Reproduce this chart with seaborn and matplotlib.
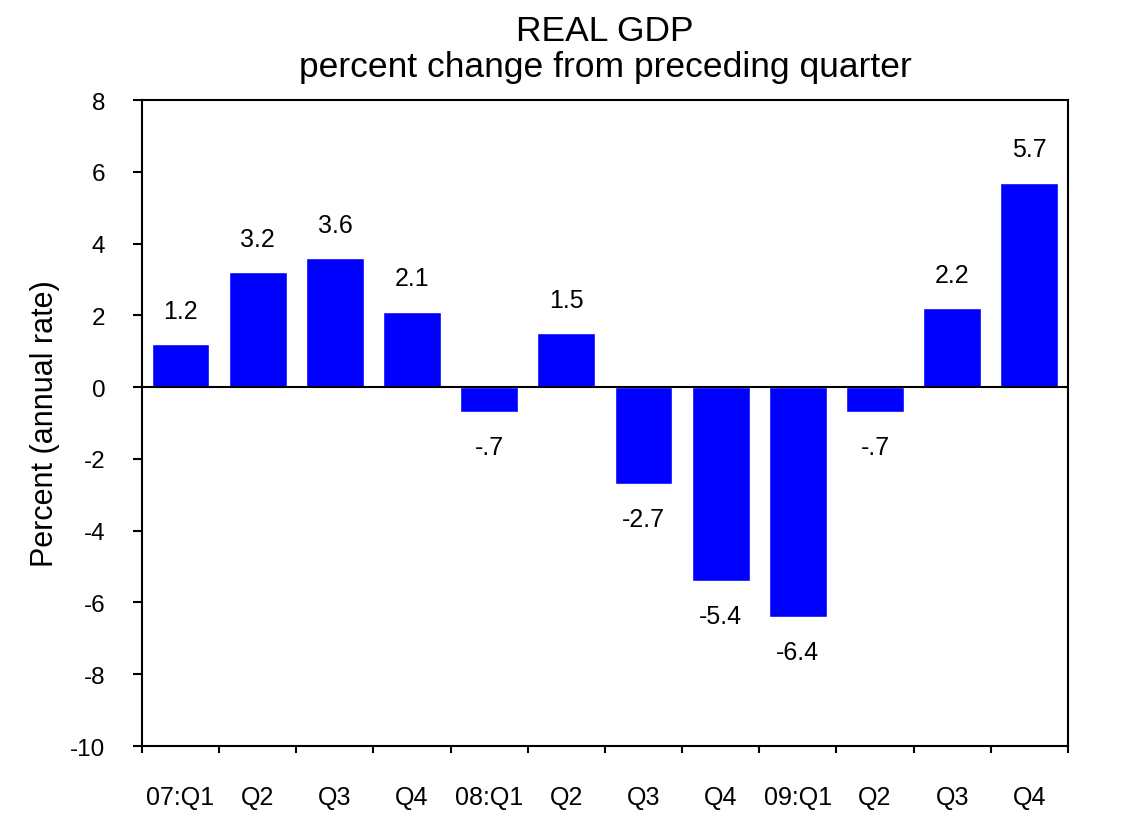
import matplotlib
matplotlib.use("Agg")
import matplotlib.pyplot as plt
import numpy as np
import pandas as pd
import seaborn as sns

# ---------------------- data ----------------------
quarters = ["07:Q1", "Q2", "Q3", "Q4", "08:Q1", "Q2 ", "Q3 ", "Q4 ", "09:Q1", "Q2  ", "Q3  ", "Q4  "]
growth = [1.2, 3.2, 3.6, 2.1, -0.7, 1.5, -2.7, -5.4, -6.4, -0.7, 2.2, 5.7]
y_ticks = [-10, -8, -6, -4, -2, 0, 2, 4, 6, 8]

df = pd.DataFrame({"quarter": quarters, "growth": growth})


def fmt_value(v):
    """1.2 -> '1.2', -0.7 -> '-.7'"""
    s = f"{v:.1f}"
    return s.replace("0.", ".", 1) if abs(v) < 1 else s


# ---------------------- style ----------------------
sns.set_theme(style="white")
plt.rcParams["font.family"] = ["Liberation Sans", "DejaVu Sans"]
plt.rcParams["axes.unicode_minus"] = False
plt.rcParams["text.color"] = "black"
plt.rcParams["axes.labelcolor"] = "black"
plt.rcParams["xtick.color"] = "black"
plt.rcParams["ytick.color"] = "black"

fig = plt.figure(figsize=(11.25, 8.28), dpi=100)
ax = fig.add_axes([0.1262, 0.0978, 0.8231, 0.7802])

sns.barplot(data=df, x="quarter", y="growth", color="#0000FF", saturation=1,
            width=0.75, ax=ax, order=quarters)

ax.axhline(0, color="black", lw=1.5, zorder=3)

for i, v in enumerate(growth):
    off = 24 if v >= 0 else -25
    ax.annotate(fmt_value(v), (i, v), xytext=(0, off), textcoords="offset points",
                ha="center", va="center", fontsize=18)

ax.set_ylim(-10, 8)
ax.set_yticks(y_ticks)
ax.set_xlim(-0.5, len(quarters) - 0.5)

# labels centered under bars, tick marks between bars
ax.set_xticks(np.arange(len(quarters)))
ax.set_xticklabels([q.strip() for q in quarters])
ax.set_xticks(np.arange(-0.5, len(quarters), 1), minor=True)
ax.tick_params(axis="x", which="major", length=0, pad=28, labelsize=18)
ax.tick_params(axis="x", which="minor", bottom=True, length=5, width=1.5, direction="out")
ax.tick_params(axis="y", left=True, length=6.5, width=1.5, direction="out",
               pad=20, labelsize=17.5)

for sp in ax.spines.values():
    sp.set_color("black")
    sp.set_linewidth(1.5)

ax.set_xlabel("")
ax.set_ylabel("Percent (annual rate)", fontsize=22, labelpad=7)
ax.set_title("REAL GDP\npercent change from preceding quarter", fontsize=25.5, pad=17, linespacing=1.15)

fig.savefig("out.png", dpi=100)
